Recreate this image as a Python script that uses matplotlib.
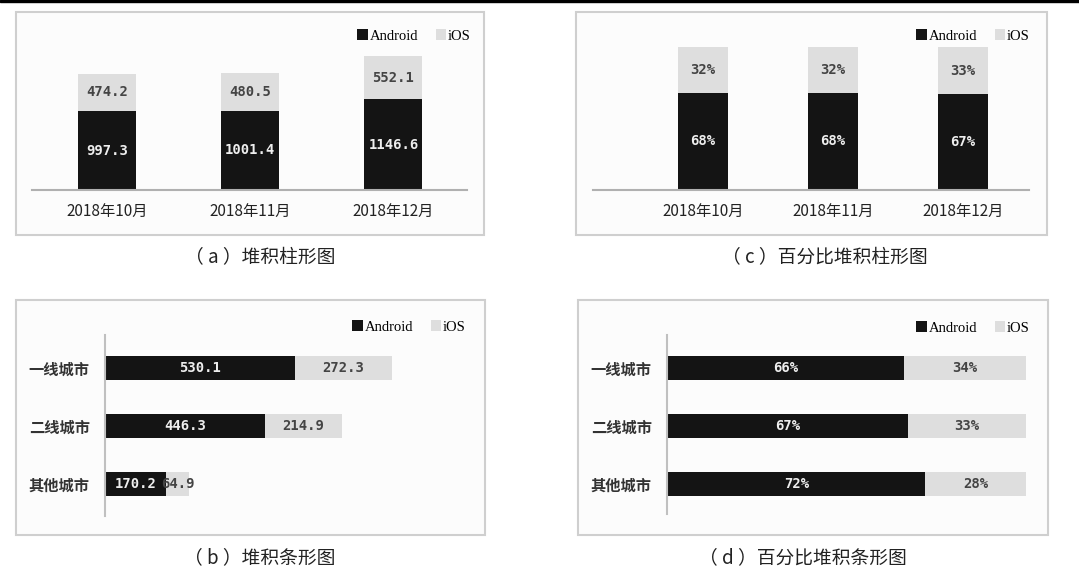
import matplotlib
matplotlib.use('Agg')
import matplotlib.pyplot as plt
from matplotlib.patches import Patch, Rectangle

plt.rcParams['font.family'] = ['Noto Sans CJK SC', 'DejaVu Sans']

W, H = 1079, 576

months = ['2018年10月', '2018年11月', '2018年12月']
month_android = [997.3, 1001.4, 1146.6]
month_ios = [474.2, 480.5, 552.1]
month_android_pct = [68, 68, 67]
month_ios_pct = [32, 32, 33]

cities = ['一线城市', '二线城市', '其他城市']
city_android = [530.1, 446.3, 170.2]
city_ios = [272.3, 214.9, 64.9]
city_android_pct = [66, 67, 72]
city_ios_pct = [34, 33, 28]

series = ['Android', 'iOS']
captions = ['（ a ）堆积柱形图', '（ b ）堆积条形图',
            '（ c ）百分比堆积柱形图', '（ d ）百分比堆积条形图']

DARK = '#141414'
LIGHT = '#dedede'
num_font = dict(family='DejaVu Sans Mono', fontsize=10, fontweight='bold')


def rect(x0, y0, x1, y1):
    # pixel box -> figure fraction
    return [x0 / W, 1 - y1 / H, (x1 - x0) / W, (y1 - y0) / H]


fig = plt.figure(figsize=(W / 100, H / 100), dpi=100)

# black rule at the very top
fig.add_artist(Rectangle((0, 1 - 2 / H), 1, 2 / H, transform=fig.transFigure,
                         color='black', zorder=-1))

# panel frames
for x0, y0, x1, y1 in [(16, 12, 484, 235), (576, 12, 1047, 235),
                       (16, 300, 485, 535), (578, 300, 1048, 535)]:
    fig.add_artist(Rectangle((x0 / W, 1 - y1 / H), (x1 - x0) / W, (y1 - y0) / H,
                             transform=fig.transFigure, facecolor='#fcfcfc',
                             edgecolor='#cfcfcf', lw=1.5, zorder=-1))


def add_legend(px, py):
    handles = [Patch(facecolor=DARK), Patch(facecolor=LIGHT)]
    fig.legend(handles, series, loc='center left', bbox_to_anchor=(px / W, 1 - py / H),
               ncol=2, frameon=False, borderpad=0, handlelength=0.7, handleheight=0.7,
               handletextpad=0.15, columnspacing=1.2,
               prop=dict(family='Liberation Serif', size=10.5))


def column_panel(box, xlim, ylim, width, android, ios, fmt, txt_col):
    ax = fig.add_axes(rect(*box))
    ax.patch.set_visible(False)
    x = range(len(months))
    ax.bar(x, android, width, color=DARK)
    ax.bar(x, ios, width, bottom=android, color=LIGHT)
    for i in x:
        ax.text(i, android[i] / 2, fmt(android[i]), ha='center', va='center',
                color='#eeeeee', **num_font)
        ax.text(i, android[i] + ios[i] / 2, fmt(ios[i]), ha='center', va='center',
                color=txt_col, **num_font)
    ax.set_xlim(*xlim)
    ax.set_ylim(*ylim)
    ax.set_xticks(list(x), months, fontsize=11, color='#222222')
    ax.tick_params(axis='x', length=0, pad=9)
    ax.set_yticks([])
    for s in ['top', 'left', 'right']:
        ax.spines[s].set_visible(False)
    ax.spines['bottom'].set_color('#b0b0b0')
    ax.spines['bottom'].set_linewidth(1.5)
    return ax


def bar_panel(box, xlim, ylim, height, android, ios, fmt):
    ax = fig.add_axes(rect(*box))
    ax.patch.set_visible(False)
    y = range(len(cities))
    ax.barh(y, android, height, color=DARK)
    ax.barh(y, ios, height, left=android, color=LIGHT)
    for i in y:
        ax.text(android[i] / 2, i, fmt(android[i]), ha='center', va='center',
                color='#eeeeee', **num_font)
        ax.text(android[i] + ios[i] / 2, i, fmt(ios[i]), ha='center', va='center',
                color='#444444', **num_font)
    ax.set_xlim(*xlim)
    ax.set_ylim(*ylim)
    ax.set_yticks(list(y), cities, fontsize=11, fontweight='bold', color='#333333')
    ax.tick_params(axis='y', length=0, pad=11)
    ax.set_xticks([])
    for s in ['top', 'bottom', 'right']:
        ax.spines[s].set_visible(False)
    ax.spines['left'].set_color('#c0c0c0')
    ax.spines['left'].set_linewidth(1.5)
    return ax


# (a) stacked columns
column_panel((32, 20, 467, 190), (-0.524, 2.514), (0, 2152), 0.405,
             month_android, month_ios, lambda v: f'{v:.1f}', '#444444')
add_legend(350, 36)

# (c) percent stacked columns
column_panel((593, 20, 1029, 190), (-0.846, 2.508), (0, 118.9), 0.385,
             month_android_pct, month_ios_pct, lambda v: f'{v}%', '#444444')
add_legend(909, 36)

# (b) stacked bars
bar_panel((105, 335, 480, 516), (0, 1047), (2.552, -0.569), 0.40,
          city_android, city_ios, lambda v: f'{v:.1f}')
add_legend(345, 327)

# (d) percent stacked bars
bar_panel((667, 335, 1026, 514), (0, 100), (2.517, -0.569), 0.40,
          city_android_pct, city_ios_pct, lambda v: f'{v}%')
add_legend(909, 328)

# captions
for (cx, cy), cap in zip([(260, 258), (260, 558), (825, 258), (803, 558)], captions):
    fig.text(cx / W, 1 - cy / H, cap, ha='center', va='center', fontsize=13.5, color='#222222')

fig.savefig('out.png', dpi=100)
